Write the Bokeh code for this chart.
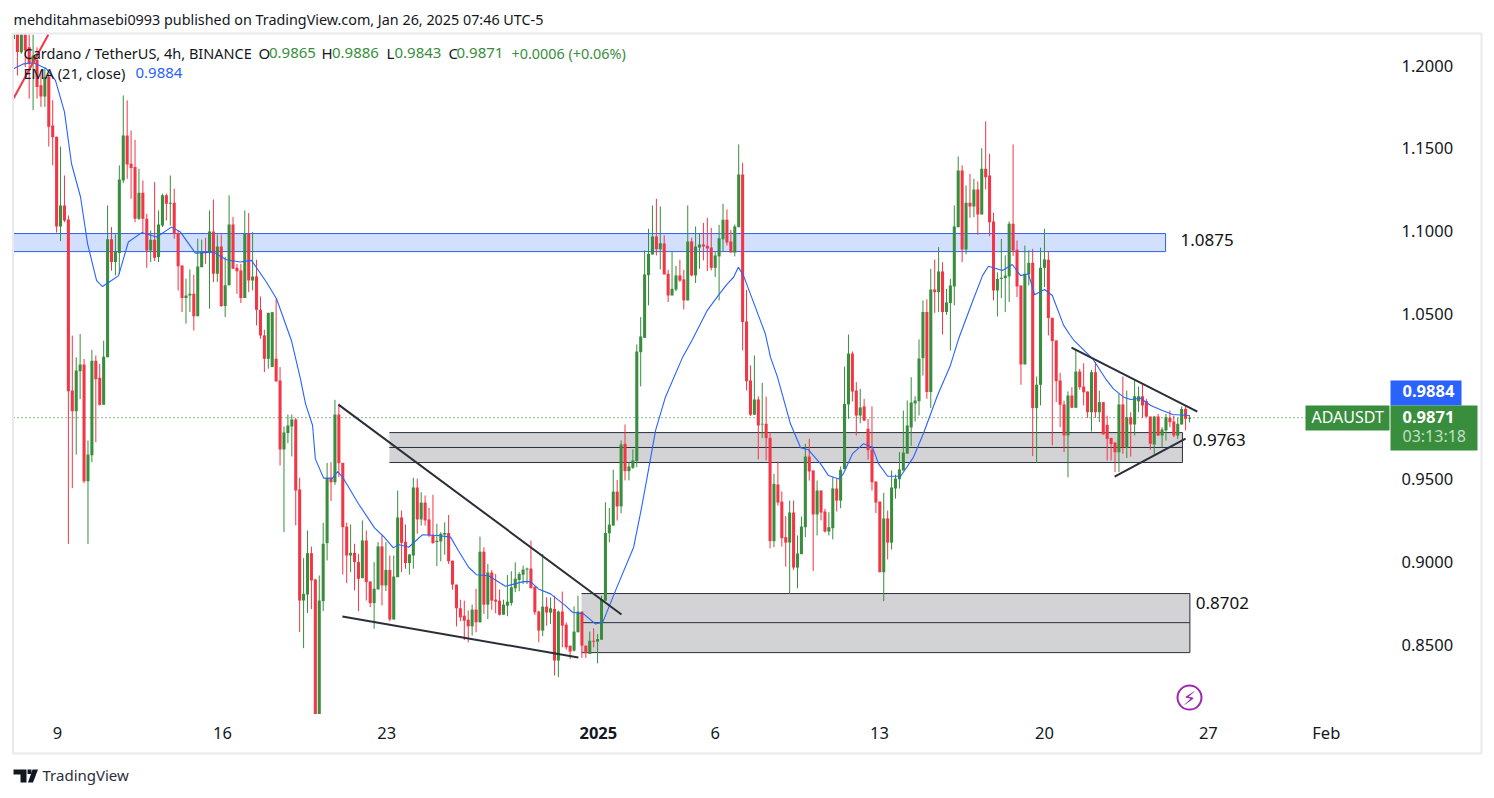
from bokeh.plotting import figure
from bokeh.embed import file_html
from bokeh.resources import INLINE
from bokeh.core.properties import value
from bokeh.models import (ColumnDataSource, Range1d, FixedTicker, NumeralTickFormatter,
                          Label, BoxAnnotation, PolyAnnotation)

# ---------- candles (4h bars) ----------
opens = [
1.216,1.222,1.208,1.225,1.211,1.2011,1.2035,1.188,1.1813,1.193,
1.1638,1.157,1.1027,1.1154,1.1069,1.0035,.991,1.0152,1.0192,.9487,
.9644,1.0216,1.0112,.995,1.0237,1.0949,1.0812,1.0866,1.1305,1.1577,
1.1406,1.1386,1.1073,1.1231,1.1073,1.0882,1.0947,1.0842,1.1033,1.1215,
1.1164,1.117,1.0987,1.0791,1.0594,1.061,1.062,1.0485,1.0781,1.0872,
1.0872,1.0997,1.0741,1.0906,1.0546,1.0671,1.1039,1.0777,1.0761,1.0594,
1.0983,1.07,1.0725,1.0523,1.0368,1.0227,1.0177,1.0227,1.0096,.9679,
.9778,.9818,.986,.9437,.8766,.8802,.9052,.8893,.808,.8762,
.9113,.9506,.9481,.989,.9598,.9213,.9038,.9054,.8998,.8901,
.9129,.8881,.875,.8833,.9093,.8857,.8951,.8651,.8907,.9268,
.9121,.8992,.9038,.9449,.9256,.9358,.9256,.9163,.9119,.9123,
.9164,.9174,.9007,.8862,.8719,.8674,.865,.861,.8711,.8634,
.9061,.8741,.8935,.8771,.8765,.868,.8735,.8751,.884,.889,
.8922,.8953,.8959,.885,.8699,.8584,.8729,.8693,.8715,.8403,
.8699,.862,.8493,.8463,.8574,.8699,.8493,.8443,.8523,.8517,
.8529,.8765,.9172,.9219,.9424,.9335,.9713,.9548,.9568,.9609,
1.0267,1.0354,1.0733,1.0858,1.0967,1.089,1.0924,1.0741,1.061,1.0646,
1.0731,1.0707,1.058,1.0936,1.0731,1.09,1.0918,1.091,1.09,1.0777,
1.0846,1.0949,1.1067,1.0936,1.087,1.1023,1.1341,1.0453,1.0096,.9889,
.9981,.983,.9834,.9749,.9125,.9467,.9364,.9149,.9116,.9298,
.8965,.9046,.9209,.9636,.9552,.9286,.9431,.9304,.9183,.9203,
.9443,.937,.956,.9951,1.0259,1.0035,.9884,.9939,.9804,.9677,
.9485,.9364,.8937,.9262,.9116,.9443,.9499,.9552,.9654,.9812,
.9957,.9971,1.0231,1.051,1.0026,1.0646,1.063,1.0755,1.051,1.0564,
1.0664,1.1023,1.1366,1.0888,1.117,1.1148,1.125,1.11,1.1376,1.1335,
1.1057,1.064,1.071,1.0715,1.0725,1.1043,1.0886,1.067,1.0193,1.0737,
1.0807,.9929,1.007,1.0777,1.0826,1.0475,1.0338,1.0096,.9951,.9764,
1.0005,.9931,1.015,1.0059,1.0029,.9904,1.0146,.9904,.9965,.9828,
.9749,.9721,.9662,.9951,.9689,.9874,.983,.997,1.0001,.9971,
.9878,.9709,.9878,.9763,.9794,.987,.9848,.9763,.983,.9924,.9865]
closes = [
1.225,1.2081,1.222,1.209,1.201,1.206,1.187,1.1813,1.193,1.163,
1.1567,1.1027,1.1154,1.1063,1.0031,.991,1.0156,1.0192,.9487,.9648,
1.0216,1.0103,.995,1.024,1.0949,1.0812,1.0872,1.1311,1.1577,1.1402,
1.138,1.1073,1.1231,1.1073,1.0882,1.0947,1.0838,1.1039,1.1215,1.1164,
1.117,1.0983,1.0787,1.0594,1.061,1.062,1.0485,1.0785,1.0872,1.0866,
1.0997,1.0741,1.0906,1.0546,1.0671,1.1039,1.0771,1.0757,1.0594,1.0983,
1.07,1.0725,1.0523,1.0368,1.0227,1.0505,1.0509,1.009,.9679,.9782,
.9824,.986,.9431,.8766,.8806,.9052,.8887,.808,.8766,.9109,
.9506,.9481,.989,.9596,.9209,.9038,.9054,.8998,.8897,.9129,
.8877,.875,.8837,.9093,.8857,.8951,.8651,.8911,.9268,.9115,
.8992,.9044,.9449,.9256,.9358,.925,.9159,.9113,.9127,.9169,
.9174,.9003,.8862,.8719,.8664,.8644,.861,.8711,.8634,.9061,
.8741,.8935,.8765,.8759,.868,.8741,.8759,.8846,.8898,.8926,
.8953,.8959,.884,.8695,.8584,.8729,.8693,.8719,.8403,.8699,
.8614,.8483,.8457,.8578,.8699,.8493,.8447,.8523,.8517,.8533,
.8775,.9174,.9225,.9424,.9335,.9709,.9548,.9576,.9613,1.0271,
1.0362,1.0737,1.0862,1.0967,1.089,1.0926,1.0737,1.061,1.065,1.0731,
1.07,1.058,1.0936,1.0731,1.0906,1.0918,1.0906,1.0894,1.0777,1.0852,
1.0955,1.1067,1.093,1.087,1.1027,1.1341,1.0449,1.0092,.9889,.9981,
.9824,.9834,.9748,.9125,.9471,.9358,.9143,.9116,.9298,.8965,
.905,.9213,.9636,.9546,.9286,.9431,.9298,.9183,.9209,.9443,
.937,.9556,.9955,1.0259,1.0029,.9884,.9933,.9854,.9675,.9481,
.9358,.8937,.9262,.9116,.9449,.9503,.9558,.966,.9824,.9963,
.9975,1.0229,1.051,1.0026,1.0646,1.063,1.0755,1.051,1.0568,1.067,
1.1027,1.1366,1.0888,1.117,1.1148,1.125,1.11,1.1376,1.1325,1.1053,
1.064,1.071,1.0717,1.073,1.1043,1.0882,1.0664,1.0193,1.0741,1.0807,
.9929,1.007,1.0777,1.0828,1.0473,1.0334,1.0092,.9949,.9764,1.0005,
.9931,1.015,1.0055,1.0025,.9904,1.0146,.9904,.9965,.977,.9743,
.9712,.9662,.9951,.9693,.9874,.983,1.0001,1.0001,.9945,.9878,
.9713,.9878,.9763,.98,.9874,.9844,.9763,.9834,.9924,.9864,.9871]
highs = [
1.23,1.228,1.23,1.23,1.225,1.225,1.211,1.197,1.199,1.195,
1.179,1.157,1.151,1.1335,1.1094,1.0367,1.0236,1.0377,1.0226,.9733,
1.0281,1.0247,1.0196,1.0337,1.1154,1.1023,1.0979,1.1396,1.1819,1.1789,
1.1607,1.1551,1.1376,1.1305,1.1104,1.1003,1.1295,1.1124,1.1225,1.1225,
1.1335,1.1255,1.1003,1.0791,1.0711,1.0767,1.0735,1.0953,1.0947,1.0959,
1.1124,1.119,1.0979,1.0979,1.0842,1.1215,1.1084,1.0801,1.0801,1.1124,
1.1108,1.0993,1.0826,1.0604,1.0403,1.0505,1.0509,1.059,1.0177,.9818,
.989,.989,.987,.9508,.9022,.9189,.9092,.8897,.8917,.9236,
.9598,.9602,.9979,.9955,.9598,.9236,.9226,.9109,.9048,.925,
.9189,.8881,.8998,.9119,.9159,.9119,.9038,.9038,.9431,.931,
.9226,.9048,.9508,.9502,.9421,.9401,.9326,.9405,.923,.9179,
.9239,.9283,.9007,.8862,.8771,.8765,.8705,.8741,.8836,.9152,
.9088,.8987,.895,.8926,.8832,.8771,.892,.8943,.8997,.8937,
.8977,.8965,.9128,.885,.8705,.9047,.8785,.8785,.8795,.8705,
.882,.8634,.8493,.8731,.8795,.8699,.8493,.8578,.8598,.8564,
.8795,.936,.9325,.9557,.9495,.9733,.983,.9603,.9679,1.0314,
1.0479,1.0882,1.1013,1.1154,1.1194,1.1148,1.0973,1.0765,1.0872,1.0789,
1.0826,1.0765,1.1154,1.0959,1.1027,1.0983,1.1049,1.1079,1.1019,1.0872,
1.1037,1.1164,1.113,1.1007,1.1039,1.1523,1.1412,1.0644,1.0187,1.0247,
1.0,1.0082,.9999,.9783,.9532,.9606,.9425,.9276,.937,.937,
.9159,.9274,.9713,.9743,.9552,.9491,.9431,.932,.93,.9511,
.95,.9576,1.018,1.0374,1.0271,1.0086,1.0045,.9985,.9864,.9939,
.9485,.9364,.9417,.931,.9552,.9527,.9663,.9914,.9975,1.0116,
1.0,1.0344,1.058,1.0586,1.0771,1.0827,1.0902,1.0811,1.065,1.071,
1.1154,1.145,1.1396,1.1275,1.1345,1.1315,1.1299,1.15,1.1662,1.1466,
1.111,1.075,1.0952,1.0852,1.1057,1.1523,1.0942,1.067,1.0912,1.0882,
1.0892,1.012,1.0898,1.1013,1.0876,1.0475,1.0338,1.0142,.9974,1.003,
1.0055,1.0287,1.0166,1.02,1.003,1.016,1.0207,1.0035,.9965,.9884,
.9749,.9721,1.0015,1.012,1.0035,.9904,1.01,1.0059,1.0076,.9985,
.9878,.9882,.9894,.9814,.9894,.9914,.9884,.987,.9939,.9945,.9886]
lows = [
1.201,1.194,1.207,1.199,1.18,1.173,1.18,1.175,1.175,1.151,
1.1396,1.099,1.0938,1.1053,.9108,.9445,.9648,.9983,.9475,.9108,
.9602,.9723,.9944,.995,1.0237,1.076,1.0731,1.074,1.1289,1.1315,
1.1194,1.1053,1.1067,1.0983,1.0777,1.0812,1.0818,1.0812,1.1023,1.1063,
1.1033,1.0953,1.064,1.051,1.0439,1.051,1.0398,1.0485,1.0781,1.0801,
1.053,1.0691,1.0691,1.054,1.0479,1.0671,1.0771,1.062,1.0564,1.0594,
1.063,1.064,1.0429,1.0348,1.0147,1.0167,1.0177,1.009,.9582,.9179,
.9717,.9637,.922,.8575,.8478,.869,.8714,.808,.808,.8702,
.9008,.9367,.9465,.9512,.8923,.8871,.8937,.8827,.8702,.8901,
.8766,.8726,.8595,.8833,.8736,.8823,.8641,.8651,.8907,.8937,
.8958,.8923,.8958,.917,.9219,.9219,.9149,.9109,.8974,.9003,
.9043,.8987,.8832,.861,.864,.8527,.8513,.8554,.8574,.8634,
.8685,.8654,.871,.8689,.8675,.868,.8671,.8735,.8816,.8822,
.8866,.8866,.884,.8679,.8513,.855,.8614,.8624,.8312,.8302,
.8483,.8469,.8413,.8457,.8574,.8419,.8419,.8443,.8483,.8386,
.8529,.8765,.9118,.9219,.9249,.9293,.9492,.9492,.9562,.9572,
1.006,1.0354,1.055,1.0858,1.0852,1.0767,1.0737,1.057,1.061,1.0636,
1.0691,1.0525,1.058,1.0725,1.0685,1.0771,1.0822,1.0757,1.0761,1.0721,
1.058,1.0876,1.0912,1.087,1.0846,1.1023,1.0278,1.0036,.9881,.9889,
.9619,.9748,.9613,.9082,.9088,.934,.9092,.8971,.8806,.8951,
.884,.9046,.9149,.9491,.8944,.9159,.925,.9177,.9159,.9135,
.9304,.9324,.956,.9864,.9969,.9763,.9838,.985,.9618,.9431,
.9294,.8937,.8762,.9014,.9074,.9382,.9443,.9552,.9654,.9701,
.9848,.9884,1.0126,.9985,.9929,1.0505,1.0509,1.0374,1.0493,1.0277,
1.055,1.1023,1.0811,1.0858,1.108,1.1083,1.0977,1.11,1.125,1.0969,
1.058,1.0483,1.0594,1.051,1.057,1.0848,1.06,1.007,1.0193,1.067,
.9639,.9598,.9945,1.066,1.0368,.9703,.9965,.9814,.9663,.9511,
.9931,.9931,1.004,.9945,.987,.9787,.987,.9844,.977,.9612,
.9612,.9542,.9542,.9652,.9628,.9636,.9763,.9904,.987,.9874,
.9677,.9648,.9763,.9693,.9733,.9814,.9753,.9743,.983,.9794,.9843]

# ---------- EMA(21), read at bar positions ----------
ema_bar = [0,2.6,5.1,8.4,10.7,13,14.8,17.1,18.9,21.2,22.7,25,26.8,29.3,32.7,36.5,40.3,42.6,46.4,51,54.3,
57.9,60.7,64.5,67.1,70.9,73.2,74.5,76.3,77,79.1,81.4,82.7,84.2,88,92.1,94.4,96.9,98.2,100.8,104.3,108.2,
111.5,113.5,116.1,118.1,121.2,125.5,130.1,131.9,133.9,137,140.8,142.6,145.4,148.5,150.3,154.1,158.2,160,
161.5,163.8,166.3,170.7,173.2,177,179.8,182.1,183.7,184.9,186.2,191.8,193.1,194.9,198.2,200.8,202.8,205.9,
207.9,210.5,211.7,214,216.8,219.1,220.7,223,226.3,229.6,232.1,235.7,239,241.1,244.6,247.2,248.7,252.3,
254.8,256.9,258.9,260.5,263,265,267.9,269.6,270.4,275.3,278.6,280.6,283.2,285,287.5,290.1,293.1,295.7,300]
ema_val = [1.198,1.201,1.2017,1.198,1.191,1.172,1.1406,1.1205,1.0922,1.07,1.0664,1.07,1.073,1.0933,1.099,1.0963,
1.1023,1.0993,1.0866,1.0872,1.0826,1.0812,1.0822,1.0691,1.059,1.0338,1.0106,.9955,.9824,.9622,.9506,.9506,
.9546,.9502,.9351,.9205,.9153,.9084,.9105,.9088,.9163,.9159,.9149,.9067,.8967,.8922,.8916,.8852,.888,.888,
.8836,.8806,.8735,.8695,.8685,.8624,.8634,.8856,.9088,.93,.9492,.9794,.9995,1.0237,1.0344,1.052,1.061,1.068,
1.072,1.0781,1.0731,1.0378,1.0237,1.0116,.9834,.9689,.9677,.9592,.9521,.9501,.9532,.9652,.9713,.9693,.9592,
.9517,.9517,.9633,.9774,1.0005,1.0187,1.0348,1.057,1.073,1.0787,1.0761,1.0797,1.073,1.0741,1.0614,1.0646,
1.061,1.0429,1.0368,1.0342,1.0227,1.0106,1.0045,.9995,.9981,.9989,.9945,.9914,.989,.9884]

# ---------- axis texts ----------
price_ticks = [0.85, 0.90, 0.95, 1.05, 1.10, 1.15, 1.20]
date_ticks = [11.2, 53.3, 95.2, 179, 220.9, 263, 304.8, 334.9]
date_labels = ["9", "16", "23", "6", "13", "20", "27", "Feb"]
year_tick, year_label = 149.2, "2025"

# ---------- zones, trend lines, level labels ----------
blue_zone = dict(x0=0, x1=293.9, low=1.0875, high=1.0984)
grey_zone_a = dict(x0=95.9, x1=298.2, low=0.96, mid=0.9691, high=0.9781)
grey_zone_b = dict(x0=144.9, x1=300.1, low=0.8451, mid=0.8632, high=0.8808)
trend_x0 = [82.9, 83.9, 269.9, 280.9, 0]
trend_x1 = [155.1, 144.1, 302, 299, 8.9]
trend_y0 = [0.995, 0.8669, 1.0295, 0.9515, 1.18]
trend_y1 = [0.8681, 0.8421, 0.9908, 0.9745, 1.2187]
trend_col = ["#2a2e39"] * 4 + ["#f23645"]
level_x = [297.7, 300.8, 301.6]
level_y = [1.0948, 0.9739, 0.8753]
level_txt = ["1.0875", "0.9763", "0.8702"]
last_price, ema_last = 0.9871, 0.9884
pane_top = 1.2187   # the price pane ends here; bars are cut off at its edge

UP, DOWN, BLUE, INK = "#388e3c", "#f23645", "#2962ff", "#131722"
FONT = "Noto Sans"

n = len(opens)
assert n == len(closes) == len(highs) == len(lows) == 301
bar = list(range(n))
src = ColumnDataSource(dict(
    x=bar,
    high=[min(h, pane_top) for h in highs], low=lows,
    top=[min(max(o, c), pane_top) for o, c in zip(opens, closes)],
    bottom=[min(o, c) for o, c in zip(opens, closes)],
    color=[UP if c >= o else DOWN for o, c in zip(opens, closes)]))

W, H = 1490, 790
p = figure(width=W, height=H, output_backend="svg", toolbar_location=None,
           x_range=Range1d(-13 / 3.92, (W - 13) / 3.92),
           y_range=Range1d(1.2 - (H - 65) / 1654.3, 1.2 + 65 / 1654.3),
           min_border=0, x_axis_location="below", y_axis_location="right",
           background_fill_color="white", border_fill_color="white", outline_line_color=None)
p.grid.visible = False

p.xaxis.ticker = FixedTicker(ticks=date_ticks + [year_tick])
p.xaxis.major_label_overrides = {**dict(zip(date_ticks, date_labels)), year_tick: ""}
p.yaxis.ticker = FixedTicker(ticks=price_ticks)
p.yaxis.formatter = NumeralTickFormatter(format="0.0000")
for ax in (p.xaxis[0], p.yaxis[0]):
    ax.axis_line_color = None
    ax.major_tick_line_color = None
    ax.minor_tick_line_color = None
    ax.major_label_text_font = FONT
    ax.major_label_text_font_size = "16.5px"
    ax.major_label_text_color = INK
p.xaxis.major_label_standoff = -76
p.yaxis.major_label_standoff = -95

def zone(z, fill, line):
    p.quad(left=z["x0"], right=z["x1"], bottom=z["low"], top=z["high"], fill_color=fill, line_color=None)
    levels = [z["low"], z["high"]] + ([z["mid"]] if "mid" in z else [])
    p.segment(x0=[z["x0"]] * len(levels), x1=[z["x1"]] * len(levels), y0=levels, y1=levels,
              line_color=line, line_width=1)
    p.segment(x0=[z["x1"]], x1=[z["x1"]], y0=[z["low"]], y1=[z["high"]], line_color=line, line_width=1)

zone(blue_zone, "#d3e0fd", "#2f5fe8")
zone(grey_zone_a, "#d3d3d6", "#2a2e39")
zone(grey_zone_b, "#d3d3d6", "#2a2e39")

p.line([0, 1305 / 3.92], [last_price, last_price], line_color=UP, line_dash="1 3", line_width=1.3)

p.segment("x", "high", "x", "low", source=src, line_color="color", line_width=1)
p.vbar("x", width=0.78, top="top", bottom="bottom", source=src, fill_color="color", line_color=None)
p.line(ema_bar, ema_val, line_color=BLUE, line_width=1.1)

p.segment(x0=trend_x0, y0=trend_y0, x1=trend_x1, y1=trend_y1, line_color=trend_col, line_width=2)

p.text(x=level_x, y=level_y, text=level_txt, text_font=value(FONT), text_font_size="17px",
       text_color="#111111", text_baseline="middle", text_align="left")

# lightning mark near the last bar
p.scatter(x=[300], y=[0.8179], size=24, marker="circle", fill_color=None, line_color="#9c27b0", line_width=2)
p.text(x=[300], y=[0.8179], text=["\u26a1"], text_font=value("DejaVu Sans"), text_font_size="19px",
       text_color="#9c27b0", text_align="center", text_baseline="middle")

def label(txt, x, y, size=14, color=INK, style="normal", align="left"):
    p.add_layout(Label(x=x, y=y - 1.3, x_units="canvas", y_units="canvas", text=txt, text_font=FONT,
                       text_font_size=f"{size}px", text_color=color, text_font_style=style,
                       text_align=align, text_baseline="middle"))

def box(x0, x1, y0, y1, fill=None, line=None, lw=1):
    p.add_layout(BoxAnnotation(left=x0, right=x1, top=y0, bottom=y1,
                               left_units="canvas", right_units="canvas", top_units="canvas",
                               bottom_units="canvas", fill_color=fill, fill_alpha=1 if fill else 0,
                               line_color=line, line_alpha=1 if line else 0, line_width=lw))

# outer pane border
box(12.5, 1481, 33, 753, None, "#e9e9ef", 2)

# price tags
box(1390, 1461, 380, 405, BLUE)
box(1305, 1389, 405, 430, UP)
box(1390, 1477, 405, 450, UP)
label("0.9884", 1402, 392, 16.5, "white", "bold")
label("ADAUSDT", 1311, 418, 16, "white")
label("0.9871", 1402, 418, 16.5, "white", "bold")
label("03:13:18", 1402, 437, 16, "#c4ddc5")
p.add_layout(Label(x=year_tick, y=732.5, x_units="data", y_units="canvas", text=year_label, text_font=FONT,
                   text_font_size="16.5px", text_color=INK, text_font_style="bold",
                   text_align="center", text_baseline="middle"))

# header and legend
label("mehditahmasebi0993 published on TradingView.com, Jan 26, 2025 07:46 UTC-5", 13, 20, 14.35)
label("Cardano / TetherUS, 4h, BINANCE", 23, 54, 14.5)
for t, x, c, s in [("O", 258, INK, 15), ("0.9865", 268.5, UP, 15), ("H", 321, INK, 15), ("0.9886", 331.5, UP, 15),
                   ("L", 386, INK, 15), ("0.9843", 394, UP, 15), ("C", 448, INK, 15), ("0.9871", 456, UP, 15),
                   ("+0.0006 (+0.06%)", 511, UP, 14.4)]:
    label(t, x, 54, s, c)
label("EMA (21, close)", 23, 74, 14.5)
label("0.9884", 135, 74, 15, BLUE)

# TradingView mark
for xs, ys in [([13, 26, 26, 20, 20, 13], [769, 769, 782, 782, 774, 774]),
               ([32, 37.5, 32.5, 27.5], [769, 769, 782, 782]),
               ([27, 31, 31, 27], [769, 769, 773.5, 773.5])]:
    p.add_layout(PolyAnnotation(xs=xs, ys=ys, xs_units="canvas", ys_units="canvas",
                                fill_color="#131722", fill_alpha=1, line_color=None))
label("TradingView", 42, 776, 15, "#2a2e39")

open("out.html", "w").write(file_html(p, INLINE))
